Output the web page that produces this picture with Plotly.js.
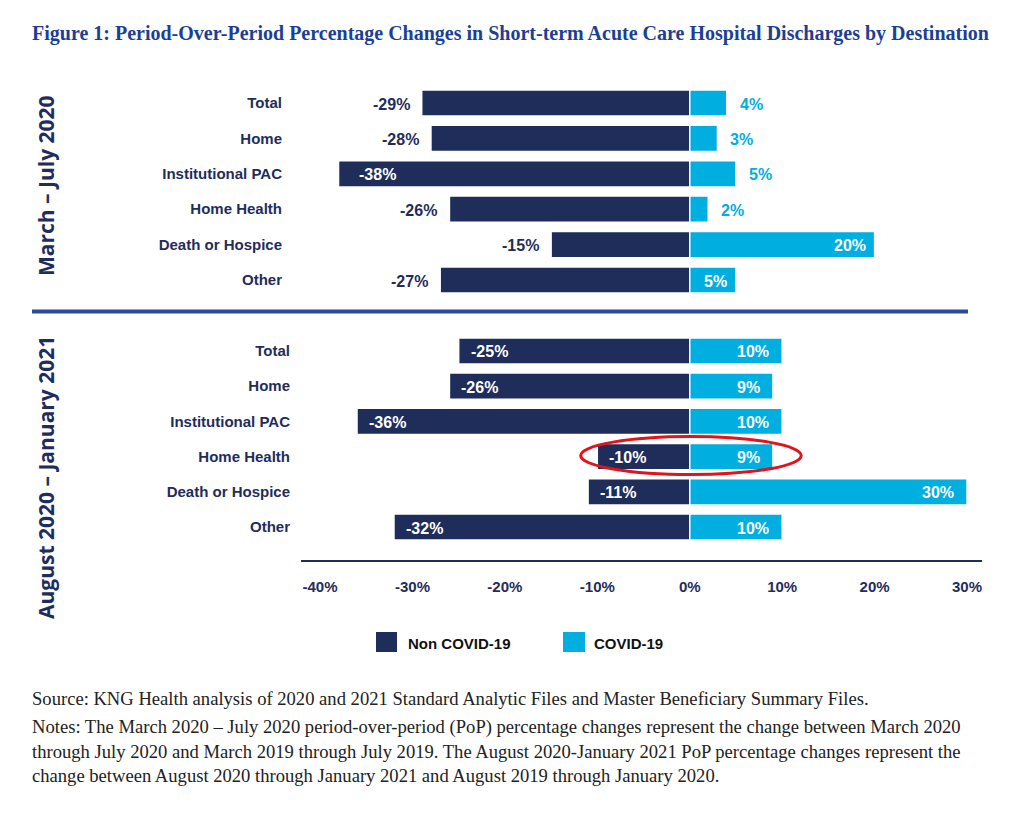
<!DOCTYPE html>
<html>
<head>
<meta charset="utf-8">
<script src="https://cdn.plot.ly/plotly-3.0.1.min.js"></script>
<style>html,body{margin:0;padding:0;background:#fff;}</style>
</head>
<body>
<div id="chart" style="width:1018px;height:813px;"></div>
<script>
// Discharge destinations (rows, top to bottom)
const destinations = ["Total", "Home", "Institutional PAC", "Home Health", "Death or Hospice", "Other"];
const periodLabels = ["March – July 2020", "August 2020 – January 2021"];
const seriesNames = ["Non COVID-19", "COVID-19"];

// Period-over-period % change, March–July 2020
const marJulNonCovid = [-29, -28, -38, -26, -15, -27];
const marJulCovid = [4, 3, 5, 2, 20, 5];
// Period-over-period % change, August 2020–January 2021
const augJanNonCovid = [-25, -26, -36, -10, -11, -32];
const augJanCovid = [10, 9, 10, 9, 30, 10];

const tickValues = [-40, -30, -20, -10, 0, 10, 20, 30];
const tickLabels = ["-40%", "-30%", "-20%", "-10%", "0%", "10%", "20%", "30%"];

// Whether each value label sits inside its bar
const marJulNonInside = [false, false, true, false, false, false];
const marJulCovidInside = [false, false, false, false, true, true];
const augJanNonInside = [true, true, true, true, true, true];
const augJanCovidInside = [true, true, true, true, true, true];

const W = 1018, H = 813;
const px = x => x / W;
const py = y => 1 - y / H;

const NAVY = "#1f2d5b";
const CYAN = "#00aee0";
const FONT = "Liberation Sans, Arial, sans-serif";
const SERIF = "Liberation Serif, Times New Roman, serif";

function barTrace(vals, color, name, xa, ya) {
  return {
    type: "bar", orientation: "h", name: name,
    x: vals, y: destinations, xaxis: xa, yaxis: ya,
    width: 0.74,
    marker: {color: color, line: {color: "#ffffff", width: 1.5}},
    showlegend: false, hovertemplate: "%{y}: %{x}%<extra>" + name + "</extra>"
  };
}

const data = [
  barTrace(marJulNonCovid, NAVY, seriesNames[0], "x2", "y"),
  barTrace(marJulCovid, CYAN, seriesNames[1], "x2", "y"),
  barTrace(augJanNonCovid, NAVY, seriesNames[0], "x", "y2"),
  barTrace(augJanCovid, CYAN, seriesNames[1], "x", "y2")
];

// Value labels, anchored to the end of each bar
const annotations = [];
function valueLabels(vals, inside, xref, yref, negative, padIn, padOut) {
  vals.forEach((v, i) => {
    const isIn = inside[i];
    let anchor, shift, color;
    if (negative) {
      anchor = isIn ? "left" : "right";
      shift = isIn ? padIn : -padOut;
      color = isIn ? "#ffffff" : NAVY;
    } else {
      anchor = isIn ? "right" : "left";
      shift = isIn ? -padIn : padOut;
      color = isIn ? "#ffffff" : CYAN;
    }
    annotations.push({
      xref: xref, yref: yref, x: v, y: destinations[i],
      text: v + "%", showarrow: false, xanchor: anchor, yanchor: "middle", xshift: shift, yshift: -1,
      font: {family: FONT, size: 16, color: color, weight: "bold"}
    });
  });
}
valueLabels(marJulNonCovid, marJulNonInside, "x2", "y", true, 18, 10);
valueLabels(marJulCovid, marJulCovidInside, "x2", "y", false, 7, 11);
valueLabels(augJanNonCovid, augJanNonInside, "x", "y2", true, 10, 10);
valueLabels(augJanCovid, augJanCovidInside, "x", "y2", false, 11, 11);

// Title
annotations.push({
  xref: "paper", yref: "paper", x: px(30), y: py(34), xanchor: "left", yanchor: "middle",
  text: "Figure 1: Period-Over-Period Percentage Changes in Short-term Acute Care Hospital Discharges by Destination",
  showarrow: false, font: {family: SERIF, size: 20, color: "#1d3f93", weight: "bold"}
});

// Rotated period labels
[[186, periodLabels[0]], [478, periodLabels[1]]].forEach(([yc, t]) => {
  annotations.push({
    xref: "paper", yref: "paper", x: px(46), y: py(yc), xanchor: "center", yanchor: "middle",
    text: t, textangle: -90, showarrow: false,
    font: {family: "Open Sans, sans-serif", size: 21, color: NAVY, weight: "bold"}
  });
});

// Legend text
annotations.push({
  xref: "paper", yref: "paper", x: px(406), y: py(643), xanchor: "left", yanchor: "middle",
  text: seriesNames[0], showarrow: false, font: {family: FONT, size: 15, color: "#111111", weight: "bold"}
});
annotations.push({
  xref: "paper", yref: "paper", x: px(592), y: py(643), xanchor: "left", yanchor: "middle",
  text: seriesNames[1], showarrow: false, font: {family: FONT, size: 15, color: "#111111", weight: "bold"}
});

// Source and notes
const noteLines = [
  [698, "Source: KNG Health analysis of 2020 and 2021 Standard Analytic Files and Master Beneficiary Summary Files."],
  [727, "Notes: The March 2020 – July 2020 period-over-period (PoP) percentage changes represent the change between March 2020"],
  [751, "through July 2020 and March 2019 through July 2019. The August 2020-January 2021 PoP percentage changes represent the"],
  [775, "change between August 2020 through January 2021 and August 2019 through January 2020."]
];
noteLines.forEach(([yc, t]) => {
  annotations.push({
    xref: "paper", yref: "paper", x: px(30), y: py(yc), xanchor: "left", yanchor: "middle",
    text: t, showarrow: false, font: {family: SERIF, size: 18.6, color: "#222222"}
  });
});

const shapes = [
  // divider between the two periods
  {type: "line", xref: "paper", yref: "paper", x0: px(32), x1: px(968), y0: py(311.5), y1: py(311.5),
   line: {color: "#2a4a9e", width: 4}},
  // highlight around Home Health, Aug 2020 – Jan 2021
  {type: "circle", xref: "x", yref: "y2", x0: -11.8, x1: 12.06, y0: 2.43, y1: 3.51,
   line: {color: "#e0141b", width: 3}},
  // legend swatches
  {type: "rect", xref: "paper", yref: "paper", x0: px(376), x1: px(397), y0: py(632), y1: py(652),
   fillcolor: NAVY, line: {width: 0}},
  {type: "rect", xref: "paper", yref: "paper", x0: px(563), x1: px(585), y0: py(632), y1: py(652),
   fillcolor: CYAN, line: {width: 0}}
];

const xRange = [-42.06, 31.62];
const xDomain = [px(301), px(982)];
const catFont = {family: FONT, size: 15, color: NAVY, weight: "bold"};

const layout = {
  width: W, height: H,
  margin: {l: 0, r: 0, t: 0, b: 0},
  paper_bgcolor: "#ffffff", plot_bgcolor: "rgba(0,0,0,0)",
  barmode: "overlay",
  showlegend: false,
  xaxis: {
    domain: xDomain, range: xRange, anchor: "free", position: py(561),
    showline: true, linecolor: NAVY, linewidth: 2,
    tickmode: "array", tickvals: tickValues, ticktext: tickLabels,
    ticks: "", ticklabelstandoff: 12,
    tickfont: {family: FONT, size: 15, color: NAVY, weight: "bold"},
    showgrid: false, zeroline: false, fixedrange: true
  },
  xaxis2: {
    domain: xDomain, range: xRange, anchor: "y", visible: false,
    showgrid: false, zeroline: false, fixedrange: true
  },
  yaxis: {
    domain: [py(297.7), py(85.3)], anchor: "x2", type: "category",
    autorange: "reversed", ticks: "", ticklabelstandoff: 18,
    tickfont: catFont, showgrid: false, showline: false, zeroline: false, fixedrange: true
  },
  yaxis2: {
    domain: [py(544.7), py(333.3)], anchor: "x", type: "category",
    autorange: "reversed", ticks: "", ticklabelstandoff: 10,
    tickfont: catFont, showgrid: false, showline: false, zeroline: false, fixedrange: true
  },
  annotations: annotations,
  shapes: shapes
};

Plotly.newPlot("chart", data, layout, {displayModeBar: false, staticPlot: true});
</script>
</body>
</html>
